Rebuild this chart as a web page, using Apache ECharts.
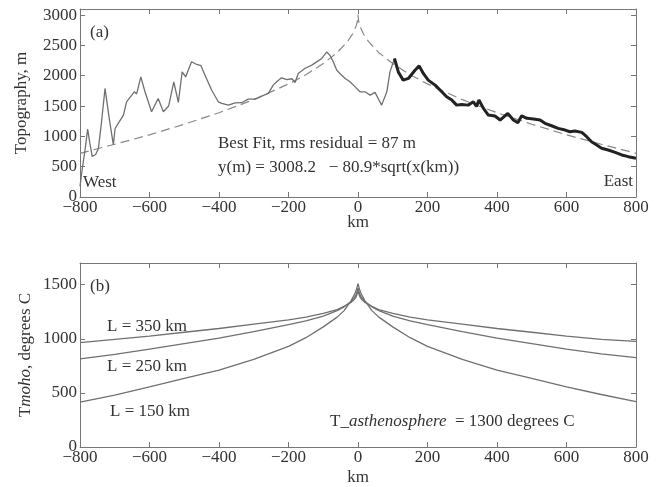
<!DOCTYPE html>
<html>
<head>
<meta charset="utf-8">
<script src="https://cdn.jsdelivr.net/npm/echarts@6/dist/echarts.min.js"></script>
<style>html,body{margin:0;padding:0;background:#fff;}#c{width:662px;height:487px;}</style>
</head>
<body>
<div id="c"></div>
<script>
// ---- Panel (a): topography (km, m) ----
const westKm = [-800,-795,-785,-778,-772,-765,-755,-747,-738,-728,-716,-704,-699,-690,-675,-666,-651,-644,-637,-625,-613,-594,-589,-575,-560,-545,-530,-517,-506,-496,-479,-464,-452,-438,-421,-402,-392,-373,-354,-335,-316,-296,-277,-258,-244,-234,-220,-205,-190,-181,-172,-153,-133,-119,-104,-90,-81,-71,-61,-52,-37,-23,-9,6,20,35,49,58,68,83,92,105];
const westM  = [175,400,800,1120,900,670,700,800,1240,1790,1300,860,1130,1215,1350,1570,1680,1735,1700,1980,1735,1405,1390,1625,1405,1500,1900,1560,2065,1980,2230,2185,2165,1980,1760,1570,1543,1515,1553,1555,1615,1615,1663,1708,1845,1900,1965,1935,1950,1888,2037,2119,2174,2228,2284,2392,2338,2228,2091,2037,1955,1899,1820,1735,1735,1680,1725,1625,1515,1735,2063,2284];
const eastKm = [105,116,130,145,164,176,188,202,222,241,255,270,284,298,317,332,341,348,361,375,394,409,431,447,460,471,486,505,524,538,557,576,596,610,624,644,658,672,687,701,720,740,759,778,800];
const eastM  = [2284,2063,1927,1955,2091,2162,2037,1927,1845,1735,1652,1598,1515,1525,1515,1570,1495,1598,1461,1351,1335,1269,1379,1269,1225,1339,1297,1285,1269,1215,1175,1132,1104,1076,1088,1066,994,912,857,803,775,737,693,665,640];
const fitKm = [-800,-700,-600,-500,-400,-300,-200,-150,-100,-60,-30,-15,-5,-2,0,2,5,15,30,60,100,150,200,300,400,500,600,700,800];
const fitM  = [720,870,1025,1200,1390,1605,1865,2015,2200,2380,2565,2695,2825,2894,3008,2894,2825,2695,2565,2380,2200,2015,1865,1605,1390,1200,1025,870,720];

// ---- Panel (b): Moho temperature (km, deg C) ----
const tKm   = [-800,-700,-600,-500,-400,-300,-200,-150,-100,-60,-40,-20,-10,-5,0,5,10,20,40,60,100,150,200,300,400,500,600,700,800];
const t350  = [965,995,1025,1060,1095,1135,1175,1200,1235,1270,1300,1335,1365,1390,1440,1390,1365,1335,1300,1270,1235,1200,1175,1135,1095,1060,1025,995,975];
const t250  = [815,855,905,955,1005,1065,1130,1165,1210,1260,1295,1345,1380,1410,1470,1410,1380,1345,1295,1260,1210,1165,1130,1065,1005,955,905,860,825];
const t150  = [415,480,555,635,710,810,930,1010,1110,1200,1260,1350,1410,1450,1510,1450,1410,1350,1260,1200,1110,1010,930,810,710,635,555,485,420];

const xTicksMin = -800, xTicksMax = 800, xStep = 200;

const pair = (xs, ys) => xs.map((x, i) => [x, ys[i]]);
const FONT = '"Liberation Serif", "DejaVu Serif", serif';
const TXT = '#333';
const AX = '#777';

function xAx(gi, pos, labels, name, gap) {
  return {
    type: 'value', gridIndex: gi, position: pos, min: xTicksMin, max: xTicksMax, interval: xStep,
    axisLine: {show: true, onZero: false, lineStyle: {color: AX, width: 1}},
    axisTick: {show: true, inside: true, length: 5, lineStyle: {color: AX}},
    splitLine: {show: false},
    axisLabel: {show: labels, margin: 2, color: TXT, fontFamily: FONT, fontSize: 17,
      formatter: v => (v < 0 ? '\u2212' + Math.abs(v) : '' + v)},
    name: name || '', nameLocation: 'middle', nameGap: gap || 13, nameMoveOverlap: false,
    nameTextStyle: {color: TXT, fontFamily: FONT, fontSize: 17}
  };
}
function yAx(gi, pos, labels, max, name, rich, gap) {
  return {
    type: 'value', gridIndex: gi, position: pos, min: 0, max: max, interval: 500,
    axisLine: {show: true, onZero: false, lineStyle: {color: AX, width: 1}},
    axisTick: {show: true, inside: true, length: 5, lineStyle: {color: AX}},
    splitLine: {show: false},
    axisLabel: {show: labels, margin: 3, color: TXT, fontFamily: FONT, fontSize: 17, showMaxLabel: false,
      formatter: v => '' + v},
    name: name || '', nameLocation: 'middle', nameGap: gap || 50, nameRotate: 90, nameMoveOverlap: false,
    nameTextStyle: {color: TXT, fontFamily: FONT, fontSize: 17, rich: rich || {}}
  };
}

const chart = echarts.init(document.getElementById('c'), null, {renderer: 'canvas'});
const lineBase = {type: 'line', symbol: 'none', smooth: false, animation: false};
function txt(x, y, text, align, rich) {
  return {type: 'text', x: x, y: y, style: {text: text, x: 0, y: 0, fill: TXT, font: '17px ' + FONT,
    align: align || 'left', verticalAlign: 'middle', rich: rich || undefined}};
}
const italic = {i: {fontStyle: 'italic', fontFamily: FONT, fontSize: 17, color: TXT}};

chart.setOption({
  animation: false,
  backgroundColor: '#fff',
  grid: [
    {left: 80, right: 26, top: 9, height: 188},
    {left: 80, right: 26, top: 263, height: 187}
  ],
  xAxis: [xAx(0, 'bottom', true, 'km', 17), xAx(0, 'top', false), xAx(1, 'bottom', true, 'km', 22), xAx(1, 'top', false)],
  yAxis: [
    yAx(0, 'left', true, 3100, 'Topography, m', null, 50),
    yAx(0, 'right', false, 3100),
    yAx(1, 'left', true, 1700, 'T{i|moho}, degrees C', {i: {fontStyle: 'italic', fontFamily: FONT, fontSize: 17, color: TXT}}, 46),
    yAx(1, 'right', false, 1700)
  ],
  series: [
    Object.assign({}, lineBase, {xAxisIndex: 0, yAxisIndex: 0, data: pair(fitKm, fitM),
      lineStyle: {color: '#888', width: 1.2, type: [9, 5]}}),
    Object.assign({}, lineBase, {xAxisIndex: 0, yAxisIndex: 0, data: pair(westKm, westM),
      lineStyle: {color: '#707070', width: 1.3}}),
    Object.assign({}, lineBase, {xAxisIndex: 0, yAxisIndex: 0, data: pair(eastKm, eastM),
      lineStyle: {color: '#222', width: 3}}),
    Object.assign({}, lineBase, {xAxisIndex: 2, yAxisIndex: 2, data: pair(tKm, t350),
      lineStyle: {color: '#707070', width: 1.3}}),
    Object.assign({}, lineBase, {xAxisIndex: 2, yAxisIndex: 2, data: pair(tKm, t250),
      lineStyle: {color: '#707070', width: 1.3}}),
    Object.assign({}, lineBase, {xAxisIndex: 2, yAxisIndex: 2, data: pair(tKm, t150),
      lineStyle: {color: '#707070', width: 1.3}})
  ],
  graphic: [
    txt(90, 33, '(a)'),
    txt(218, 144, 'Best Fit, rms residual = 87 m'),
    txt(218, 168, 'y(m) = 3008.2   \u2212 80.9*sqrt(x(km))'),
    txt(83, 183, 'West'),
    txt(633, 182, 'East', 'right'),
    txt(90, 287, '(b)'),
    txt(107, 327, 'L = 350 km'),
    txt(107, 367, 'L = 250 km'),
    txt(110, 412, 'L = 150 km'),
    txt(330, 422, 'T_{i|asthenosphere}  = 1300 degrees C', 'left', italic)
  ]
});
</script>
</body>
</html>
